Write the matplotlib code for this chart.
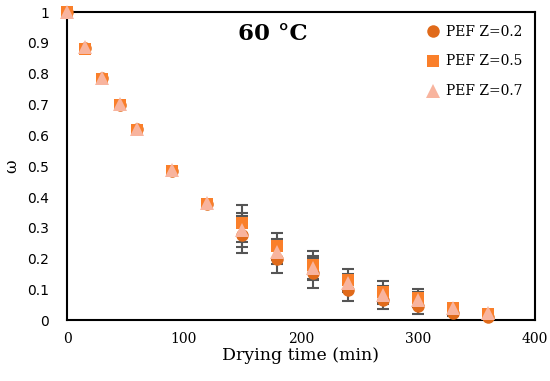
import matplotlib
matplotlib.use('Agg')
import matplotlib.pyplot as plt

# Drying time (min)
time = [0, 15, 30, 45, 60, 90, 120, 150, 180, 210, 240, 270, 300, 330, 360]

# moisture ratio for each PEF treatment
w_z02 = [1.0, 0.883, 0.786, 0.699, 0.620, 0.485, 0.378, 0.277, 0.200, 0.154, 0.099, 0.067, 0.047, 0.023, 0.010]
w_z05 = [1.0, 0.880, 0.782, 0.699, 0.617, 0.485, 0.378, 0.315, 0.240, 0.180, 0.131, 0.093, 0.072, 0.040, 0.020]
w_z07 = [1.0, 0.885, 0.786, 0.702, 0.620, 0.487, 0.380, 0.293, 0.223, 0.170, 0.121, 0.083, 0.067, 0.040, 0.023]

err_z02 = [0, 0, 0, 0, 0, 0, 0, 0.060, 0.045, 0.050, 0.035, 0.030, 0.025, 0.010, 0.005]
err_z05 = [0, 0, 0, 0, 0, 0, 0, 0.060, 0.045, 0.045, 0.035, 0.035, 0.030, 0.010, 0.005]
err_z07 = [0, 0, 0, 0, 0, 0, 0, 0.055, 0.040, 0.040, 0.030, 0.030, 0.025, 0.010, 0.005]

labels = ['PEF Z=0.2', 'PEF Z=0.5', 'PEF Z=0.7']
yticks = [0, 0.1, 0.2, 0.3, 0.4, 0.5, 0.6, 0.7, 0.8, 0.9, 1]
ytick_labels = ['0', '0.1', '0.2', '0.3', '0.4', '0.5', '0.6', '0.7', '0.8', '0.9', '1']

plt.rcParams['font.family'] = ['DejaVu Serif']

fig = plt.figure(figsize=(5.5, 3.81), dpi=100)
ax = fig.add_axes([0.122, 0.159, 0.850, 0.8095])

series = [
    (w_z02, err_z02, 'o', '#E06A1A', 9),
    (w_z05, err_z05, 's', '#FA7F2A', 9),
    (w_z07, err_z07, '^', '#F8B49E', 10),
]

# error bars first so markers sit on top
for w, e, m, c, ms in series:
    ax.errorbar(time, w, yerr=e, fmt='none', ecolor='#555555', elinewidth=1.5,
                capsize=4, capthick=1.5, zorder=2)

for (w, e, m, c, ms), lab in zip(series, labels):
    ax.plot(time, w, linestyle='none', marker=m, color=c, markersize=ms,
            markeredgewidth=0, label=lab, zorder=3, clip_on=False)

ax.set_xlim(0, 400)
ax.set_ylim(0, 1)
ax.set_xticks([0, 100, 200, 300, 400])
ax.set_yticks(yticks)
ax.set_yticklabels(ytick_labels, family='DejaVu Sans', fontsize=10)
ax.tick_params(axis='x', length=0, labelsize=10, pad=8)
ax.tick_params(axis='y', length=0, pad=13)

for s in ax.spines.values():
    s.set_linewidth(1.5)
    s.set_color('black')

ax.set_xlabel('Drying time (min)', fontsize=12.5, labelpad=1)
ax.set_ylabel('ω', fontsize=12, labelpad=5)

ax.text(0.44, 0.93, '60 °C', transform=ax.transAxes, ha='center', va='center',
        fontsize=16.5, fontweight='bold')

ax.legend(loc='upper right', frameon=False, fontsize=10, handletextpad=0.4,
          handlelength=1.0, labelspacing=1.15, borderaxespad=0.5)

fig.savefig('out.png', dpi=100)
